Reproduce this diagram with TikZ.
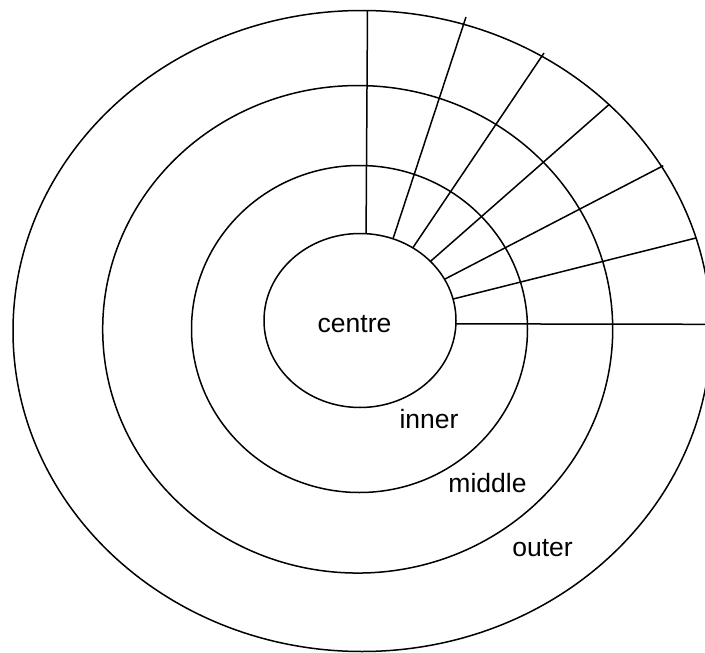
\documentclass[tikz,border=0pt]{standalone}
\usepackage{fontspec}
\setmainfont{Liberation Sans}
\usetikzlibrary{shapes.geometric}
\begin{document}
\begin{tikzpicture}[x=1pt,y=-1pt,
  ring/.style={draw=black,ellipse,line width=1.5pt,inner sep=0pt,outer sep=0pt},
  spoke/.style={draw=black,line width=1.5pt},
  lbl/.style={anchor=base,inner sep=0pt,font=\fontsize{26.5}{30}\selectfont}]
\useasboundingbox (0,0) rectangle (705,653);
\clip (0,0) rectangle (705,653);
\node[ring,minimum width=698pt,minimum height=641pt] (outer) at (362,331) {};
\node[ring,minimum width=510pt,minimum height=487.5pt] (middle) at (357.7,329.3) {};
\node[ring,minimum width=336pt,minimum height=327pt] (inner) at (359.5,329) {};
\node[ring,minimum width=192pt,minimum height=174pt] (centre) at (360,320.5) {};
\coordinate (o1) at (367.5,10.7);
\coordinate (o2) at (466,17);
\coordinate (o3) at (544,53);
\coordinate (o4) at (609.3,104.3);
\coordinate (o5) at (663.3,165.7);
\coordinate (o6) at (696,238);
\coordinate (o7) at (712,324.3);
\draw[spoke] (centre.86.7) -- (o1);
\draw[spoke] (centre.68.2) -- (o2);
\draw[spoke] (centre.54.6) -- (o3);
\draw[spoke] (centre.40.8) -- (o4);
\draw[spoke] (centre.26.6) -- (o5);
\draw[spoke] (centre.13.6) -- (o6);
\draw[spoke] (centre.-2.3) -- (o7);
\node[lbl] (tcentre) at (354.5,332) {centre};
\node[lbl] (tinner) at (429,428) {inner};
\node[lbl] (tmiddle) at (487.5,492) {middle};
\node[lbl] (touter) at (542.5,556) {outer};
\end{tikzpicture}
\end{document}
